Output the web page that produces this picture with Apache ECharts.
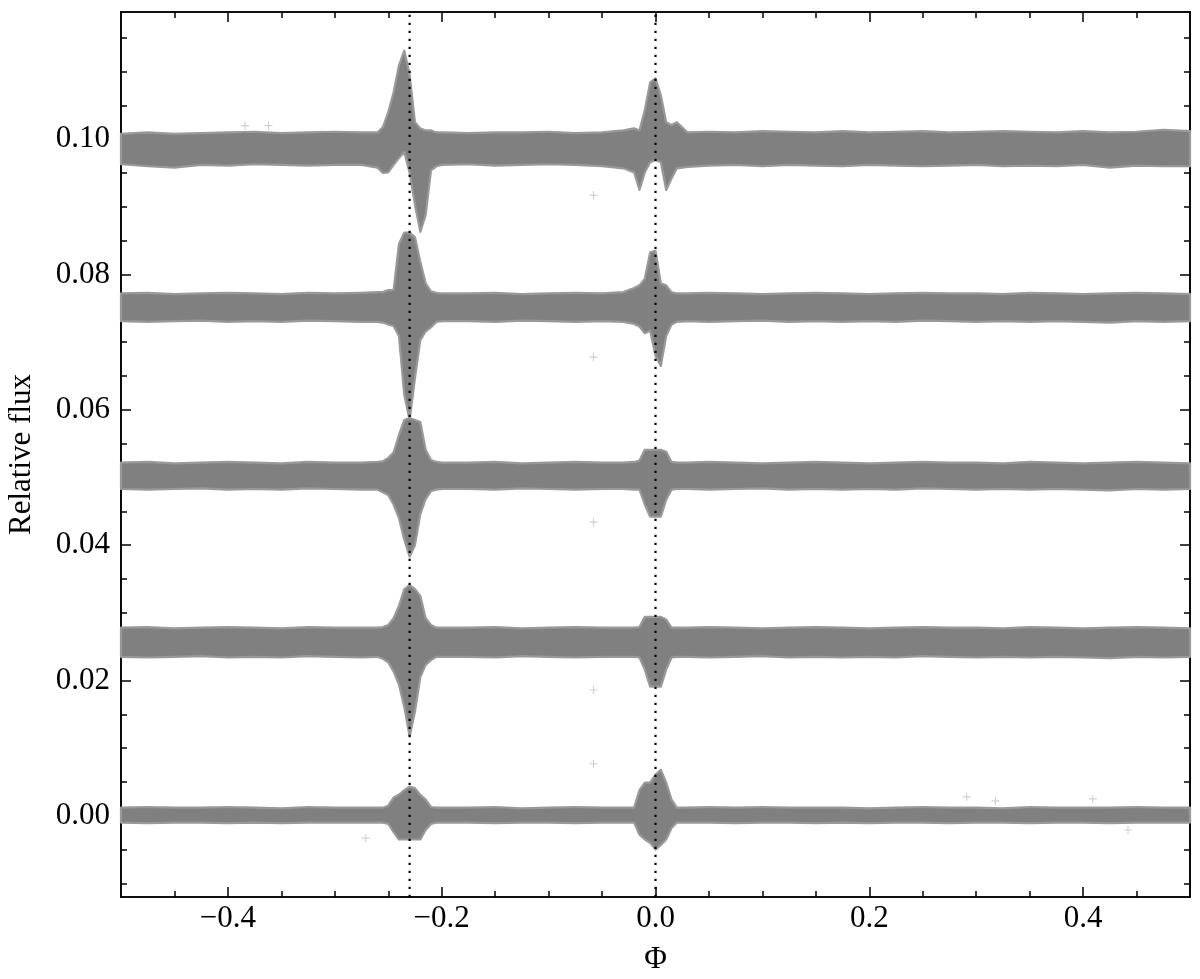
<!DOCTYPE html>
<html>
<head>
<meta charset="utf-8">
<script src="https://cdn.jsdelivr.net/npm/echarts@6/dist/echarts.min.js"></script>
<style>
html,body{margin:0;padding:0;background:#fff;}
#chart{width:1200px;height:979px;}
</style>
</head>
<body>
<div id="chart"></div>
<script>
// ---- data ----
const phase = [-0.5,-0.475,-0.45,-0.425,-0.4,-0.375,-0.35,-0.325,-0.3,-0.275,
  -0.26,-0.255,-0.25,-0.245,-0.24,-0.235,-0.23,-0.225,-0.22,-0.215,-0.21,-0.205,-0.2,
  -0.175,-0.15,-0.125,-0.1,-0.075,-0.05,
  -0.03,-0.02,-0.015,-0.01,-0.005,0,0.005,0.01,0.015,0.02,0.03,
  0.05,0.075,0.1,0.125,0.15,0.175,0.2,0.225,0.25,0.275,0.3,0.325,0.35,0.375,0.4,0.425,0.45,0.475,0.5];

const band1Hi = [0.1008,0.1010,0.1008,0.1009,0.1010,0.1011,0.1009,0.1010,0.1011,0.1010,
  0.1010,0.1018,0.1040,0.1069,0.1109,0.1131,0.1095,0.1025,0.1016,0.1013,0.1013,0.1010,0.1010,
  0.1009,0.1010,0.1010,0.1011,0.1009,0.1010,
  0.1013,0.1016,0.1013,0.1043,0.1084,0.1090,0.1065,0.1025,0.1021,0.1025,0.1010,
  0.1011,0.1010,0.1012,0.1011,0.1010,0.1012,0.1010,0.1011,0.1012,0.1010,0.1011,0.1012,0.1011,0.1010,0.1012,0.1010,0.1011,0.1014,0.1012];
const band1Lo = [0.0963,0.0960,0.0958,0.0962,0.0961,0.0963,0.0962,0.0961,0.0962,0.0962,
  0.0958,0.0950,0.0951,0.0962,0.0972,0.0981,0.0950,0.0903,0.0863,0.0888,0.0954,0.0960,0.0962,
  0.0963,0.0961,0.0962,0.0963,0.0962,0.0960,
  0.0957,0.0951,0.0925,0.0951,0.0966,0.0969,0.0966,0.0925,0.0942,0.0957,0.0959,
  0.0961,0.0962,0.0960,0.0962,0.0961,0.0960,0.0962,0.0961,0.0960,0.0961,0.0962,0.0960,0.0961,0.0960,0.0962,0.0958,0.0961,0.0960,0.0960];

const band2Hi = [0.0772,0.0773,0.0771,0.0772,0.0773,0.0772,0.0771,0.0773,0.0772,0.0773,
  0.0774,0.0774,0.0777,0.0777,0.0845,0.0862,0.0862,0.0855,0.0819,0.0787,0.0775,0.0773,0.0772,
  0.0772,0.0773,0.0771,0.0772,0.0773,0.0772,
  0.0774,0.0780,0.0784,0.0794,0.0833,0.0835,0.0787,0.0784,0.0774,0.0772,0.0772,
  0.0773,0.0772,0.0771,0.0772,0.0773,0.0772,0.0771,0.0772,0.0773,0.0772,0.0772,0.0771,0.0773,0.0772,0.0771,0.0772,0.0773,0.0772,0.0771];
const band2Lo = [0.0731,0.0730,0.0731,0.0732,0.0730,0.0731,0.0730,0.0732,0.0731,0.0730,
  0.0730,0.0729,0.0726,0.0724,0.0709,0.0622,0.0585,0.0647,0.0703,0.0716,0.0722,0.0730,0.0731,
  0.0731,0.0730,0.0732,0.0731,0.0730,0.0731,
  0.0730,0.0727,0.0723,0.0713,0.0717,0.0680,0.0665,0.0709,0.0726,0.0730,0.0731,
  0.0730,0.0731,0.0732,0.0730,0.0731,0.0730,0.0731,0.0730,0.0732,0.0731,0.0730,0.0731,0.0730,0.0731,0.0730,0.0729,0.0731,0.0730,0.0731];

const band3Hi = [0.0522,0.0523,0.0521,0.0522,0.0523,0.0522,0.0521,0.0523,0.0522,0.0522,
  0.0523,0.0524,0.0529,0.0537,0.0563,0.0585,0.0588,0.0585,0.0582,0.0541,0.0526,0.0523,0.0522,
  0.0522,0.0523,0.0521,0.0522,0.0523,0.0522,
  0.0522,0.0523,0.0525,0.0541,0.0541,0.0541,0.0541,0.0538,0.0523,0.0522,0.0522,
  0.0523,0.0522,0.0521,0.0522,0.0523,0.0522,0.0521,0.0522,0.0523,0.0522,0.0522,0.0521,0.0523,0.0522,0.0521,0.0522,0.0523,0.0522,0.0521];
const band3Lo = [0.0483,0.0482,0.0483,0.0484,0.0482,0.0483,0.0482,0.0484,0.0483,0.0482,
  0.0482,0.0478,0.0474,0.0460,0.0440,0.0408,0.0383,0.0400,0.0446,0.0468,0.0480,0.0482,0.0483,
  0.0483,0.0482,0.0484,0.0483,0.0482,0.0483,
  0.0483,0.0482,0.0482,0.0460,0.0442,0.0442,0.0442,0.0467,0.0482,0.0483,0.0483,
  0.0482,0.0483,0.0484,0.0482,0.0483,0.0482,0.0483,0.0482,0.0484,0.0483,0.0482,0.0483,0.0482,0.0483,0.0482,0.0481,0.0483,0.0482,0.0483];

const band4Hi = [0.0278,0.0279,0.0277,0.0278,0.0279,0.0278,0.0277,0.0279,0.0278,0.0278,
  0.0278,0.0279,0.0282,0.0292,0.0310,0.0335,0.0341,0.0335,0.0325,0.0292,0.0282,0.0278,0.0278,
  0.0278,0.0279,0.0277,0.0278,0.0279,0.0278,
  0.0278,0.0278,0.0279,0.0294,0.0294,0.0294,0.0294,0.0290,0.0278,0.0278,0.0278,
  0.0279,0.0278,0.0277,0.0278,0.0279,0.0278,0.0277,0.0278,0.0279,0.0278,0.0278,0.0277,0.0279,0.0278,0.0277,0.0278,0.0279,0.0278,0.0277];
const band4Lo = [0.0235,0.0234,0.0235,0.0236,0.0234,0.0235,0.0234,0.0236,0.0235,0.0234,
  0.0235,0.0232,0.0227,0.0213,0.0194,0.0161,0.0117,0.0154,0.0205,0.0223,0.0230,0.0235,0.0235,
  0.0235,0.0234,0.0236,0.0235,0.0234,0.0235,
  0.0235,0.0235,0.0234,0.0216,0.0191,0.0191,0.0191,0.0216,0.0234,0.0235,0.0235,
  0.0234,0.0235,0.0236,0.0234,0.0235,0.0234,0.0235,0.0234,0.0236,0.0235,0.0234,0.0235,0.0234,0.0235,0.0234,0.0233,0.0235,0.0234,0.0235];

const band5Hi = [0.0012,0.0013,0.0012,0.0012,0.0013,0.0012,0.0011,0.0013,0.0012,0.0012,
  0.0012,0.0012,0.0015,0.0027,0.0031,0.0038,0.0043,0.0041,0.0031,0.0024,0.0013,0.0012,0.0012,
  0.0012,0.0013,0.0011,0.0012,0.0013,0.0012,
  0.0012,0.0012,0.0038,0.0049,0.0049,0.0061,0.0068,0.0049,0.0024,0.0012,0.0012,
  0.0013,0.0012,0.0013,0.0012,0.0012,0.0012,0.0011,0.0012,0.0013,0.0012,0.0012,0.0011,0.0013,0.0012,0.0012,0.0012,0.0013,0.0012,0.0012];
const band5Lo = [-0.0010,-0.0011,-0.0010,-0.0010,-0.0011,-0.0010,-0.0011,-0.0010,-0.0010,-0.0010,
  -0.0010,-0.0010,-0.0012,-0.0024,-0.0035,-0.0035,-0.0035,-0.0035,-0.0035,-0.0021,-0.0012,-0.0010,-0.0010,
  -0.0010,-0.0011,-0.0010,-0.0010,-0.0011,-0.0010,
  -0.0010,-0.0010,-0.0028,-0.0035,-0.0040,-0.0050,-0.0043,-0.0035,-0.0018,-0.0010,-0.0010,
  -0.0010,-0.0011,-0.0010,-0.0010,-0.0011,-0.0010,-0.0011,-0.0010,-0.0010,-0.0011,-0.0010,-0.0010,-0.0011,-0.0010,-0.0010,-0.0011,-0.0010,-0.0010,-0.0010];

// isolated outlier points [phase, flux]
const outlierX = [-0.058,-0.058,-0.058,-0.058,-0.058,-0.271,-0.384,-0.362,0.291,0.318,0.409,0.442];
const outlierY = [0.0917,0.0678,0.0434,0.0186,0.0077,-0.0033,0.1020,0.1020,0.0028,0.0022,0.0025,-0.0021];

// dotted reference lines
const refPhases = [-0.23, 0.0];

// axes
const xMin = -0.5, xMax = 0.5;
const yMin = -0.012, yMax = 0.1188;
const xMajor = [-0.4,-0.2,0.0,0.2,0.4];
const xMinor = [-0.45,-0.35,-0.3,-0.25,-0.15,-0.1,-0.05,0.05,0.1,0.15,0.25,0.3,0.35,0.45];
const yMajor = [0.00,0.02,0.04,0.06,0.08,0.10];
const yMinor = [-0.01,-0.005,0.005,0.01,0.015,0.025,0.03,0.035,0.045,0.05,0.055,0.065,0.07,0.075,0.085,0.09,0.095,0.105,0.11,0.115];

// ---- chart ----
const FONT = '"Liberation Serif", "DejaVu Serif", serif';
const bandList = [[band1Hi,band1Lo],[band2Hi,band2Lo],[band3Hi,band3Lo],[band4Hi,band4Lo],[band5Hi,band5Lo]];

function bandSeries(hi, lo) {
  return {
    type: 'custom',
    coordinateSystem: 'cartesian2d',
    xAxisIndex: 0, yAxisIndex: 0,
    silent: true,
    data: phase.map((x, i) => [x, lo[i], hi[i]]),
    encode: { x: 0, y: [1, 2] },
    renderItem: function (params, api) {
      if (params.dataIndex !== 0) return null;
      const pts = [];
      for (let i = 0; i < phase.length; i++) pts.push(api.coord([phase[i], hi[i]]));
      for (let i = phase.length - 1; i >= 0; i--) pts.push(api.coord([phase[i], lo[i]]));
      return {
        type: 'polygon',
        shape: { points: pts },
        style: { fill: '#808080', stroke: '#999999', lineWidth: 2.2, lineJoin: 'round' }
      };
    }
  };
}

function xAxisDef(pos, ticks, len, labels, name) {
  return {
    type: 'value', position: pos, min: xMin, max: xMax,
    name: name || '', nameLocation: 'middle', nameGap: 47,
    nameTextStyle: { fontFamily: FONT, fontSize: 31, color: '#000' },
    axisLine: { show: true, onZero: false, lineStyle: { color: '#000', width: 1.6 } },
    axisTick: { show: true, inside: true, length: len, customValues: ticks, lineStyle: { color: '#000', width: 1.5 } },
    axisLabel: labels ? {
      show: true, customValues: ticks, margin: 6,
      fontFamily: FONT, fontSize: 31, color: '#000',
      formatter: v => (v < -1e-9 ? '\u2212' : '') + Math.abs(v).toFixed(1)
    } : { show: false },
    splitLine: { show: false }
  };
}
function yAxisDef(pos, ticks, len, labels, name) {
  return {
    type: 'value', position: pos, min: yMin, max: yMax,
    name: name || '', nameLocation: 'middle', nameGap: 84,
    nameTextStyle: { fontFamily: FONT, fontSize: 31, color: '#000' },
    axisLine: { show: true, onZero: false, lineStyle: { color: '#000', width: 1.6 } },
    axisTick: { show: true, inside: true, length: len, customValues: ticks, lineStyle: { color: '#000', width: 1.5 } },
    axisLabel: labels ? {
      show: true, customValues: ticks, margin: 11,
      fontFamily: FONT, fontSize: 31, color: '#000',
      formatter: v => (v < -1e-9 ? '\u2212' : '') + Math.abs(v).toFixed(2)
    } : { show: false },
    splitLine: { show: false }
  };
}

const series = bandList.map(b => bandSeries(b[0], b[1]));
series.push({
  type: 'scatter', xAxisIndex: 0, yAxisIndex: 0, silent: true,
  symbol: 'path://M3,0L4,0L4,3L7,3L7,4L4,4L4,7L3,7L3,4L0,4L0,3L3,3Z',
  symbolSize: 8,
  itemStyle: { color: '#c4c4c4' },
  data: outlierX.map((x, i) => [x, outlierY[i]]),
  z: 3
});
refPhases.forEach(p => {
  series.push({
    type: 'line', xAxisIndex: 0, yAxisIndex: 0, silent: true,
    data: [[p, yMin], [p, yMax]],
    symbol: 'none',
    lineStyle: { color: '#000', width: 2.2, type: [2.2, 5.8] },
    z: 5
  });
});

const chart = echarts.init(document.getElementById('chart'), null, { renderer: 'canvas' });
chart.setOption({
  animation: false,
  backgroundColor: '#fff',
  grid: { left: 121, top: 12, right: 10, bottom: 82, containLabel: false, outerBoundsMode: 'none' },
  xAxis: [
    xAxisDef('bottom', xMajor, 10, true, '\u03A6'),
    xAxisDef('bottom', xMinor, 6, false),
    xAxisDef('top', xMajor, 10, false),
    xAxisDef('top', xMinor, 6, false)
  ],
  yAxis: [
    yAxisDef('left', yMajor, 10, true, 'Relative flux'),
    yAxisDef('left', yMinor, 6, false),
    yAxisDef('right', yMajor, 10, false),
    yAxisDef('right', yMinor, 6, false)
  ],
  series: series
});
</script>
</body>
</html>
